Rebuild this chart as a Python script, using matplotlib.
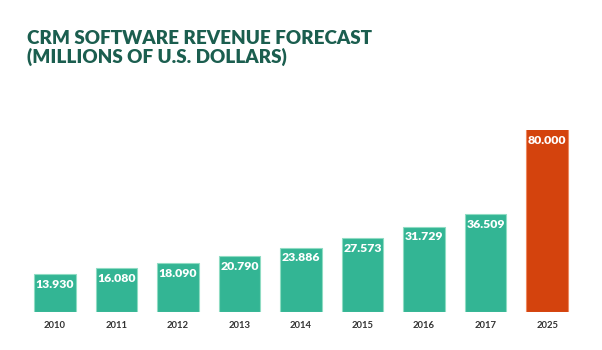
import matplotlib.pyplot as plt

years = ["2010", "2011", "2012", "2013", "2014", "2015", "2016", "2017", "2025"]
revenue = [13930, 16080, 18090, 20790, 23886, 27573, 31729, 36509, 80000]
labels = ["13.930", "16.080", "18.090", "20.790", "23.886", "27.573", "31.729", "36.509", "80.000"]

green = "#33b594"
orange = "#d4430d"
colors = [green] * 8 + [orange]
edges = ["#8fdcc3"] * 8 + ["#ee8a60"]

fig = plt.figure(figsize=(6.02, 3.5), dpi=100)
ax = fig.add_axes([0.04, 0.11, 0.92, 0.519])

x = list(range(len(years)))
ax.bar(x, revenue, width=0.675, color=colors, edgecolor=edges, linewidth=0.8)

# 2025 bar is cut at the top of the plot area, like the original
top = 67900
ax.set_ylim(0, top)
ax.set_xlim(-0.5, len(years) - 0.5)

for xi, v, lab in zip(x, revenue, labels):
    ax.annotate(lab, (xi, min(v, top)), xytext=(0, -3.5), textcoords="offset points",
                ha="center", va="top", color="white", fontsize=8.8,
                fontweight="heavy", family=["Lato", "DejaVu Sans"])

ax.set_xticks(x)
ax.set_xticklabels(years, fontsize=6.8, color="#333333", fontweight="bold",
                   family=["Lato", "DejaVu Sans"])
ax.tick_params(axis="x", length=0, pad=7)
ax.set_yticks([])
for s in ax.spines.values():
    s.set_visible(False)

fig.text(0.045, 0.915, "CRM SOFTWARE REVENUE FORECAST\n(MILLIONS OF U.S. DOLLARS)",
         fontsize=13.6, fontweight="heavy", color="#1b5e4f", va="top", ha="left",
         linespacing=1.08, family=["Lato", "DejaVu Sans"])

plt.savefig("out.png", dpi=100)
